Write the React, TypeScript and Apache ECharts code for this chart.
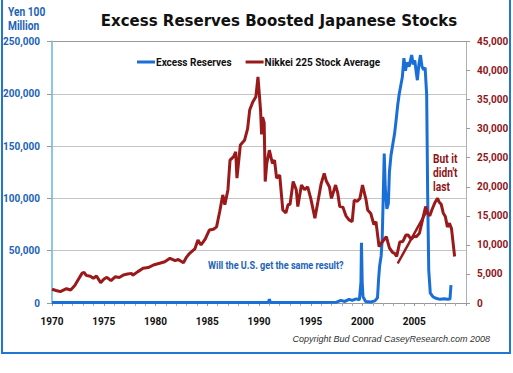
import React, { useEffect, useRef } from "react";
import * as echarts from "echarts";

// Nikkei 225 (right axis, yen)
const nikkeiYears = [
  1970.0, 1970.4, 1970.8, 1971.1, 1971.4, 1971.8, 1972.2, 1972.6, 1972.9, 1973.1, 1973.3, 1973.7,
  1974.0, 1974.3, 1974.7, 1975.0, 1975.3, 1975.7, 1976.1, 1976.5, 1976.9, 1977.3, 1977.7, 1977.8,
  1978.3, 1978.8, 1979.3, 1979.8, 1980.4, 1980.9, 1981.4, 1981.9, 1982.2, 1982.7, 1983.0, 1983.3,
  1983.8, 1984.1, 1984.4, 1984.8, 1985.2, 1985.6, 1985.9, 1986.2, 1986.5, 1986.7, 1987.0, 1987.2,
  1987.55, 1987.75, 1987.87, 1988.2, 1988.6, 1988.9, 1989.1, 1989.4, 1989.7, 1989.9, 1990.15, 1990.25,
  1990.35, 1990.5, 1990.6, 1990.75, 1991.0, 1991.3, 1991.5, 1991.7, 1992.0, 1992.3, 1992.6, 1992.8,
  1993.0, 1993.3, 1993.6, 1993.75, 1994.1, 1994.4, 1994.7, 1995.0, 1995.4, 1995.7, 1996.0, 1996.3,
  1996.5, 1996.8, 1997.0, 1997.4, 1997.6, 1997.8, 1998.1, 1998.4, 1998.7, 1999.0, 1999.2, 1999.5,
  1999.75, 2000.0, 2000.35, 2000.5, 2000.8, 2001.1, 2001.3, 2001.6, 2001.9, 2002.3, 2002.6, 2002.9,
  2003.1, 2003.3, 2003.6, 2003.9, 2004.2, 2004.4, 2004.7, 2005.0, 2005.2, 2005.5, 2005.8, 2006.1,
  2006.3, 2006.5, 2006.7, 2007.0, 2007.25, 2007.4, 2007.6, 2007.8, 2008.0, 2008.2, 2008.4, 2008.6,
  2008.9,
];
const nikkeiValues = [
  2360, 2150, 1950, 2200, 2460, 2240, 3000, 4200, 5100, 5300, 4760, 4600,
  4250, 4650, 3500, 4100, 4420, 3840, 4500, 4400, 4820, 5000, 5100, 4760,
  5400, 5970, 6100, 6540, 6830, 7100, 7690, 7280, 7500, 6940, 7900, 8550,
  9300, 10840, 9980, 11000, 12560, 12700, 13100, 15700, 18600, 16900, 19500, 24600,
  25200, 26000, 21500, 27200, 28000, 30000, 33200, 34600, 35500, 38900, 33200, 29000,
  32000, 31000, 20900, 24000, 26300, 24000, 24600, 21500, 22000, 16000, 15500, 16900,
  17000, 20900, 19500, 16600, 20300, 19500, 20000, 18000, 14600, 17500, 20500, 22300,
  21000, 20000, 18000, 20300, 19000, 16600, 16500, 15000, 14300, 14000, 17700, 17500,
  18000, 20300, 17700, 16000, 15400, 13500, 14000, 9700, 10500, 11400, 9500, 8700,
  8550, 8000, 10500, 10600, 11700, 11700, 11000, 11500, 11400, 12000, 14300, 16600,
  15400, 15000, 16000, 17300, 18000, 17400, 17000, 15500, 14900, 13100, 13700, 12800,
  8000,
];

// Excess reserves (left axis, 100 million yen)
const reserveYears = [
  1970.0, 1975.0, 1980.0, 1985.0, 1990.0, 1990.9, 1991.0, 1991.1, 1995.0, 1997.5, 1997.9, 1998.3,
  1998.7, 1999.0, 1999.4, 1999.7, 1999.85, 1999.9, 1999.97, 2000.05, 2000.3, 2000.8, 2001.2, 2001.45,
  2001.55, 2001.65, 2001.8, 2001.9, 2002.0, 2002.1, 2002.2, 2002.35, 2002.5, 2002.6, 2002.75, 2002.9,
  2003.1, 2003.25, 2003.4, 2003.55, 2003.7, 2003.85, 2004.0, 2004.15, 2004.3, 2004.5, 2004.75, 2004.9,
  2005.05, 2005.2, 2005.3, 2005.45, 2005.6, 2005.75, 2005.9, 2006.05, 2006.2, 2006.3, 2006.4, 2006.55,
  2006.8, 2007.1, 2007.5, 2007.9, 2008.2, 2008.45, 2008.55,
];
const reserveValues = [
  500, 500, 500, 500, 500, 500, 3500, 500, 500, 800, 2500, 1500,
  3500, 2500, 4000, 3000, 20000, 57600, 20000, 6000, 1500, 1000, 2000, 5000,
  22000, 35000, 45000, 60000, 100000, 143000, 110000, 90000, 95000, 125000, 141000, 150000,
  162000, 175000, 189000, 200000, 208000, 216000, 234000, 222000, 230000, 226000, 237000, 228000,
  232000, 220000, 213000, 228000, 237000, 226000, 223000, 225000, 199000, 100000, 31500, 9500,
  6000, 4500, 3500, 4000, 3500, 3800, 17000,
];

// Trend line drawn on the Nikkei
const trendYears = [2003.4, 2006.2];
const trendValues = [6800, 15800];

const leftTicks = [0, 50000, 100000, 150000, 200000, 250000];
const rightTicks = [0, 5000, 10000, 15000, 20000, 25000, 30000, 35000, 40000, 45000];
const yearTicks = [1970, 1975, 1980, 1985, 1990, 1995, 2000, 2005];

const BLUE = "#1a6fd6";
const RED = "#9a1a1c";
const FONT = "Roboto, sans-serif";

const zip = (xs: number[], ys: number[]) => xs.map((x, i) => [x, ys[i]]);
const fmt = (v: number) => v.toLocaleString("en-US");

export default function App() {
  const ref = useRef<HTMLDivElement>(null);
  useEffect(() => {
    document.body.style.margin = "0";
    const chart = echarts.init(ref.current!, null, { renderer: "svg" });
    chart.setOption({
      animation: false,
      backgroundColor: "#ffffff",
      grid: { left: 52, right: 47, top: 41.5, bottom: 70, containLabel: false, outerBoundsMode: "none" },
      legend: {
        data: ["Excess Reserves", "Nikkei 225 Stock Average"],
        left: 137,
        top: 57,
        padding: 0,
        itemWidth: 18,
        itemHeight: 3,
        itemGap: 14,
        icon: "rect",
        textStyle: { fontFamily: FONT, fontWeight: "bold", fontSize: 10, color: "#111", padding: [0, 0, 0, -4] },
      },
      xAxis: {
        type: "value",
        min: 1970,
        max: 2010,
        interval: 5,
        axisLine: { show: true, lineStyle: { color: "#999", width: 1 } },
        axisTick: { show: true, length: 3, lineStyle: { color: "#999" } },
        minorTick: { show: true, splitNumber: 5, length: 3, lineStyle: { color: "#aaa" } },
        splitLine: { show: false },
        axisLabel: {
          margin: 13,
          fontFamily: FONT,
          fontWeight: "bold",
          fontSize: 10,
          color: "#111",
          formatter: (v: number) => (yearTicks.includes(v) ? String(v) : ""),
        },
      },
      yAxis: [
        {
          type: "value",
          min: leftTicks[0],
          max: leftTicks[leftTicks.length - 1],
          interval: 50000,
          axisLine: { show: true, lineStyle: { color: "#8cc6f0", width: 2 } },
          axisTick: { show: true, length: 5, lineStyle: { color: "#999" } },
          splitLine: {
            show: true,
            lineStyle: {
              color: ["transparent", "#c4c4c4", "#c4c4c4", "#c4c4c4", "#c4c4c4", "#9a9a9a"],
              type: "solid",
              width: 1,
            },
          },
          axisLabel: {
            margin: 12,
            fontFamily: FONT,
            fontWeight: "bold",
            fontSize: 10,
            color: "#1b63b8",
            formatter: (v: number) => fmt(v),
          },
        },
        {
          type: "value",
          min: rightTicks[0],
          max: rightTicks[rightTicks.length - 1],
          interval: 5000,
          position: "right",
          axisLine: { show: true, lineStyle: { color: "#b0b0b0", width: 1 } },
          axisTick: { show: true, length: 4, lineStyle: { color: "#999" } },
          splitLine: { show: false },
          axisLabel: {
            margin: 11,
            fontFamily: FONT,
            fontWeight: "bold",
            fontSize: 10,
            color: "#8e1518",
            formatter: (v: number) => fmt(v),
          },
        },
      ],
      series: [
        {
          name: "Excess Reserves",
          type: "line",
          yAxisIndex: 0,
          data: zip(reserveYears, reserveValues),
          symbol: "none",
          color: BLUE,
          lineStyle: { color: BLUE, width: 3 },
          z: 2,
        },
        {
          name: "Nikkei 225 Stock Average",
          type: "line",
          yAxisIndex: 1,
          data: zip(nikkeiYears, nikkeiValues),
          symbol: "none",
          color: RED,
          lineStyle: { color: RED, width: 3 },
          z: 3,
        },
        {
          name: "trend",
          type: "line",
          yAxisIndex: 1,
          data: zip(trendYears, trendValues),
          symbol: "none",
          color: RED,
          lineStyle: { color: RED, width: 2.5 },
          z: 3,
        },
      ],
      graphic: [
        {
          type: "rect",
          shape: { x: 2, y: -2, width: 508, height: 355 },
          style: { fill: "none", stroke: "#1f77d4", lineWidth: 2 },
          silent: true,
        },
        {
          type: "text",
          x: 8,
          y: 5,
          scaleX: 0.85,
          style: {
            text: "Yen 100\nMillion",
            font: `bold 12px ${FONT}`,
            fill: "#1b63b8",
            lineHeight: 14,
          },
        },
        {
          type: "text",
          x: 279,
          y: 21,
          style: {
            text: "Excess Reserves Boosted Japanese Stocks",
            font: 'bold 15px "DejaVu Sans", Verdana, sans-serif',
            fill: "#111",
            align: "center",
            verticalAlign: "middle",
          },
        },
        {
          type: "text",
          x: 433,
          y: 152,
          scaleX: 0.85,
          style: {
            text: "But it\ndidn't\nlast",
            font: `bold 12px ${FONT}`,
            fill: "#8e1518",
            lineHeight: 14,
          },
        },
        {
          type: "text",
          x: 208,
          y: 265,
          scaleX: 0.83,
          style: {
            text: "Will the U.S. get the same result?",
            font: `bold 11px ${FONT}`,
            fill: "#1b63b8",
            verticalAlign: "middle",
          },
        },
        {
          type: "text",
          x: 490,
          y: 339,
          style: {
            text: "Copyright Bud Conrad CaseyResearch.com 2008",
            font: 'italic 9px "Liberation Sans", Arial, sans-serif',
            fill: "#333",
            align: "right",
            verticalAlign: "middle",
          },
        },
      ],
    });
    return () => chart.dispose();
  }, []);
  return <div ref={ref} style={{ width: 513, height: 373 }} />;
}
